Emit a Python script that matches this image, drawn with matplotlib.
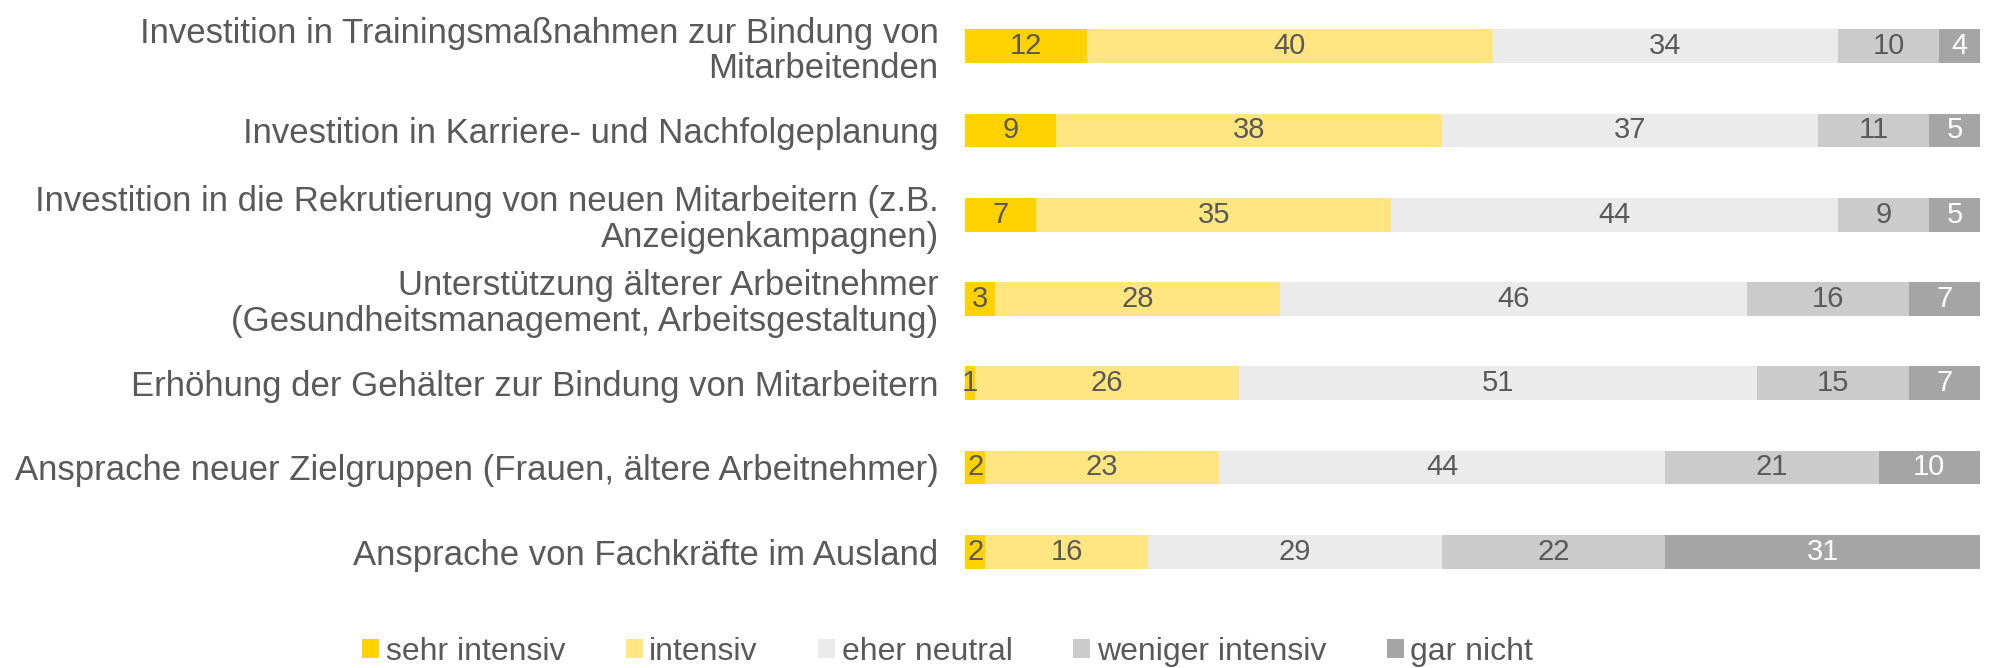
import numpy as np
import matplotlib.pyplot as plt
from matplotlib.patches import Patch

categories = [
    'Investition in Trainingsmaßnahmen zur Bindung von\nMitarbeitenden',
    'Investition in Karriere- und Nachfolgeplanung',
    'Investition in die Rekrutierung von neuen Mitarbeitern (z.B.\nAnzeigenkampagnen)',
    'Unterstützung älterer Arbeitnehmer\n(Gesundheitsmanagement, Arbeitsgestaltung)',
    'Erhöhung der Gehälter zur Bindung von Mitarbeitern',
    'Ansprache neuer Zielgruppen (Frauen, ältere Arbeitnehmer)',
    'Ansprache von Fachkräfte im Ausland',
]
series = ['sehr intensiv', 'intensiv', 'eher neutral', 'weniger intensiv', 'gar nicht']
sehr_intensiv = [12, 9, 7, 3, 1, 2, 2]
intensiv = [40, 38, 35, 28, 26, 23, 16]
eher_neutral = [34, 37, 44, 46, 51, 44, 29]
weniger_intensiv = [10, 11, 9, 16, 15, 21, 22]
gar_nicht = [4, 5, 5, 7, 7, 10, 31]

colors = ['#FFD200', '#FFE680', '#EBEBEB', '#CBCBCB', '#A5A5A5']
text_colors = ['#595959', '#595959', '#595959', '#595959', '#FFFFFF']

plt.rcParams['font.family'] = ['Liberation Sans', 'DejaVu Sans']

fig = plt.figure(figsize=(19.95, 6.68), dpi=100)
ax = fig.add_axes([0.4837, 0.111, 0.5088, 0.883])

data = [sehr_intensiv, intensiv, eher_neutral, weniger_intensiv, gar_nicht]
y = np.arange(len(categories))
left = np.zeros(len(categories))
for vals, col, tc in zip(data, colors, text_colors):
    vals = np.array(vals)
    bars = ax.barh(y, vals, left=left, height=0.4, color=col, edgecolor='none')
    ax.bar_label(bars, labels=[str(v) for v in vals], label_type='center',
                 color=tc, fontsize=21)
    left += vals

ax.set_xlim(0, 100)
ax.set_ylim(len(categories) - 0.5, -0.5)
ax.set_yticks(y)
ax.set_yticklabels(categories, fontsize=25, color='#595959', ha='right',
                   multialignment='right', linespacing=1.1)
ax.tick_params(axis='y', length=0, pad=19)
ax.set_xticks([])
for s in ax.spines.values():
    s.set_visible(False)

handles = [Patch(facecolor=c, edgecolor='none') for c in colors]
fig.legend(handles, series, loc='center', bbox_to_anchor=(0.475, 0.024),
           ncol=5, frameon=False, fontsize=23, labelcolor='#595959',
           handlelength=0.53, handleheight=0.53, handletextpad=0.2,
           columnspacing=1.9, borderpad=0)

fig.savefig('out.png', dpi=100)
